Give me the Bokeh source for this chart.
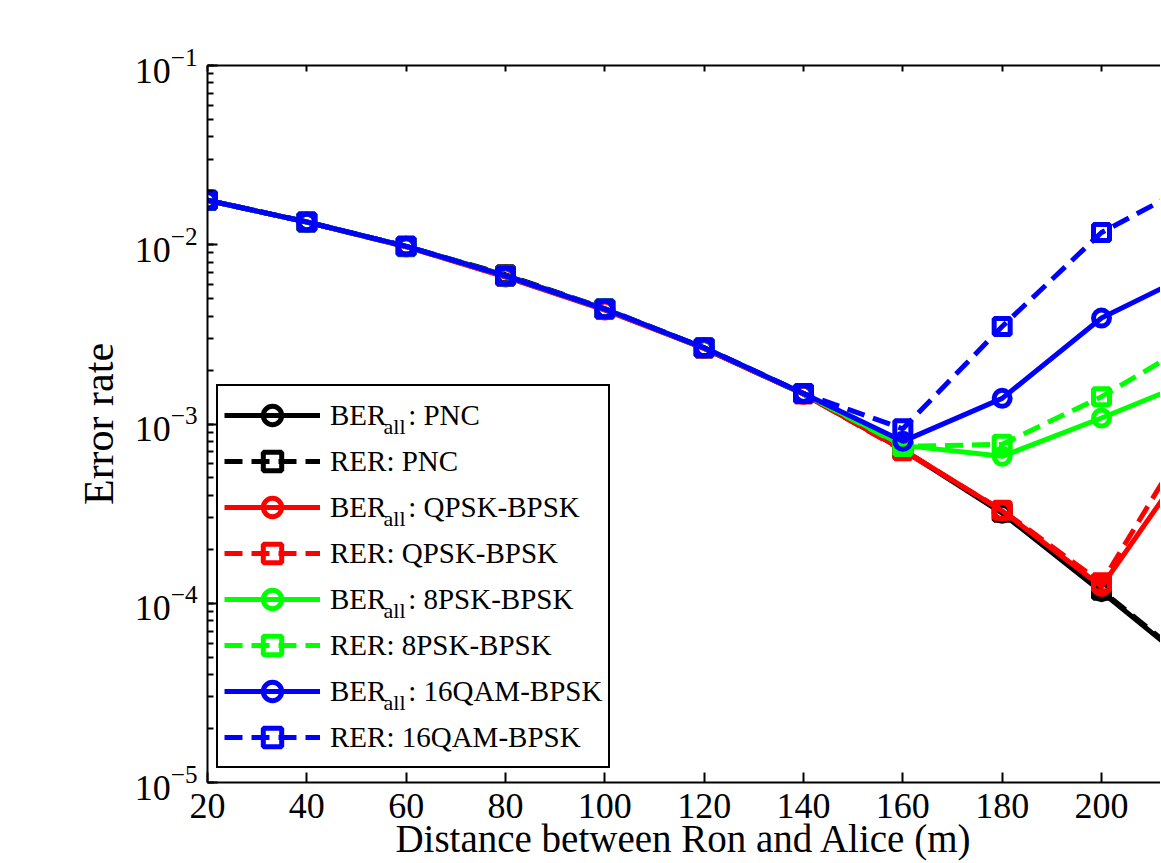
from bokeh.plotting import figure
from bokeh.models import (Range1d, FixedTicker, LinearAxis, Legend, LegendItem,
                          CustomJSTickFormatter)
from bokeh.core.properties import value
from bokeh.embed import file_html
from bokeh.resources import INLINE

# ---- data ----
distance = [20, 40, 60, 80, 100, 120, 140, 160, 180, 200, 220]

ber_pnc = [1.77e-2, 1.34e-2, 9.8e-3, 6.75e-3, 4.38e-3, 2.64e-3, 1.47e-3, 7.2e-4, 3.18e-4, 1.16e-4, 4.1e-5]
rer_pnc = [1.77e-2, 1.34e-2, 9.8e-3, 6.8e-3, 4.40e-3, 2.66e-3, 1.48e-3, 7.2e-4, 3.22e-4, 1.18e-4, 4.2e-5]
ber_qpsk = [1.77e-2, 1.34e-2, 9.75e-3, 6.6e-3, 4.32e-3, 2.64e-3, 1.47e-3, 7.2e-4, 3.28e-4, 1.24e-4, 7.7e-4]
rer_qpsk = [1.77e-2, 1.34e-2, 9.75e-3, 6.65e-3, 4.35e-3, 2.65e-3, 1.47e-3, 7.1e-4, 3.3e-4, 1.3e-4, 1.07e-3]
ber_8psk = [1.77e-2, 1.34e-2, 9.8e-3, 6.7e-3, 4.38e-3, 2.66e-3, 1.48e-3, 7.6e-4, 6.6e-4, 1.08e-3, 1.82e-3]
rer_8psk = [1.77e-2, 1.34e-2, 9.8e-3, 6.7e-3, 4.38e-3, 2.66e-3, 1.48e-3, 7.5e-4, 7.7e-4, 1.42e-3, 3.0e-3]
ber_16qam = [1.77e-2, 1.34e-2, 9.8e-3, 6.7e-3, 4.38e-3, 2.66e-3, 1.48e-3, 8.0e-4, 1.39e-3, 3.9e-3, 7.3e-3]
rer_16qam = [1.77e-2, 1.34e-2, 9.8e-3, 6.7e-3, 4.38e-3, 2.66e-3, 1.48e-3, 9.4e-4, 3.5e-3, 1.17e-2, 2.3e-2]

series_values = [ber_pnc, rer_pnc, ber_qpsk, rer_qpsk, ber_8psk, rer_8psk, ber_16qam, rer_16qam]
series_kind = ["BER", "RER", "BER", "RER", "BER", "RER", "BER", "RER"]
series_scheme = ["PNC", "PNC", "QPSK-BPSK", "QPSK-BPSK", "8PSK-BPSK", "8PSK-BPSK",
                 "16QAM-BPSK", "16QAM-BPSK"]
series_colors = ["#000000", "#000000", "#ff0000", "#ff0000", "#00ff00", "#00ff00",
                 "#0000ff", "#0000ff"]

x_ticks = [20, 40, 60, 80, 100, 120, 140, 160, 180, 200, 220]
x_label = "Distance between Ron and Alice (m)"
y_label = "Error rate"

FONT = "Liberation Serif"
NBSP = "\u00a0"

W, H = 1160, 862
LEFT, TOP, BOTTOM = 207, 65, 80
X_START, X_END = 20, 20 + (W - LEFT) / 4.9667
Y_LO_EXP, Y_HI_EXP = -5, -1
FRAME_W, FRAME_H = W - LEFT, H - TOP - BOTTOM

p = figure(width=W, height=H, y_axis_type="log",
           x_range=Range1d(X_START, X_END),
           y_range=Range1d(10.0 ** Y_LO_EXP, 10.0 ** Y_HI_EXP),
           output_backend="svg", toolbar_location=None,
           min_border_left=LEFT, min_border_right=0,
           min_border_top=TOP, min_border_bottom=BOTTOM)
p.outline_line_color = None
p.grid.visible = False
p.background_fill_color = "white"
p.border_fill_color = "white"

# bottom axis
xa = p.xaxis[0]
xa.ticker = FixedTicker(ticks=x_ticks, minor_ticks=[])
xa.axis_label = x_label
xa.axis_label_text_font = FONT
xa.axis_label_text_font_size = "39px"
xa.axis_label_text_font_style = "normal"
xa.axis_label_text_color = "black"
xa.axis_label_standoff = -4
xa.major_label_text_font = FONT
xa.major_label_text_font_size = "36px"
xa.major_label_text_color = "black"
xa.major_label_standoff = 11
xa.axis_line_width = 2
xa.major_tick_line_width = 2
xa.major_tick_in = 10
xa.major_tick_out = 0

# left axis
ya = p.yaxis[0]
ya.axis_label = y_label
ya.axis_label_text_font = FONT
ya.axis_label_text_font_size = "42px"
ya.axis_label_text_font_style = "normal"
ya.axis_label_text_color = "black"
ya.axis_label_standoff = 10
ya.major_label_text_font = FONT
ya.major_label_text_font_size = "36px"
ya.major_label_text_color = "black"
ya.major_label_standoff = 10
ya.axis_line_width = 2
ya.major_tick_line_width = 2
ya.minor_tick_line_width = 2
ya.major_tick_in = 10
ya.major_tick_out = 0
ya.minor_tick_in = 6
ya.minor_tick_out = 0

# top axis: ticks only (box look)
top_axis = LinearAxis(ticker=FixedTicker(ticks=x_ticks, minor_ticks=[]),
                      formatter=CustomJSTickFormatter(code="return ''"),
                      axis_line_width=2, major_tick_line_width=2,
                      major_tick_in=6, major_tick_out=0, major_label_standoff=0)
p.add_layout(top_axis, "above")

items = []
for vals, kind, scheme, col in zip(series_values, series_kind, series_scheme, series_colors):
    dash = "solid" if kind == "BER" else "18 9"
    marker = "circle" if kind == "BER" else "square"
    r_line = p.line(distance, vals, line_color=col, line_width=5, line_dash=dash)
    r_mark = p.scatter(distance, vals, marker=marker, size=16, line_color=col,
                       line_width=5, fill_color=None)
    if kind == "BER":
        text = "BER" + NBSP * 3 + ": " + scheme
    else:
        text = "RER: " + scheme
    items.append(LegendItem(label=text, renderers=[r_line, r_mark]))

LEG_X, LEG_Y = 9, 14
PAD, GW, GH, SP, STAND = 6, 96, 46, 0, 10
legend = Legend(items=items, location=(LEG_X, LEG_Y), orientation="vertical",
                label_text_font=FONT, label_text_font_size="29px",
                label_text_color="black",
                glyph_width=GW, glyph_height=GH, spacing=SP, padding=PAD,
                label_standoff=STAND, margin=0,
                border_line_color="black", border_line_width=2, border_line_alpha=1.0,
                background_fill_color="white", background_fill_alpha=0.0)
p.add_layout(legend)

# subscripts "all" for the BER legend entries
n = len(items)
leg_h = 2 * PAD + n * GH + (n - 1) * SP
leg_top_px = FRAME_H - LEG_Y - leg_h          # from frame top
sub_px_x = LEG_X + PAD + GW + STAND + 55      # from frame left
sub_x = X_START + sub_px_x * (X_END - X_START) / FRAME_W
sub_xs, sub_ys = [], []
for k in range(n):
    if series_kind[k] != "BER":
        continue
    base_px = leg_top_px + PAD + GH / 2 + k * (GH + SP) + 9
    sub_xs.append(sub_x)
    sub_ys.append(10.0 ** (Y_HI_EXP - (Y_HI_EXP - Y_LO_EXP) * base_px / FRAME_H))
p.text(x=sub_xs, y=sub_ys, text=["all"] * len(sub_xs), text_font=value(FONT),
       text_font_size="22px", text_color="black", text_baseline="alphabetic",
       text_align="left", level="overlay")

open("out.html", "w").write(file_html(p, INLINE))
